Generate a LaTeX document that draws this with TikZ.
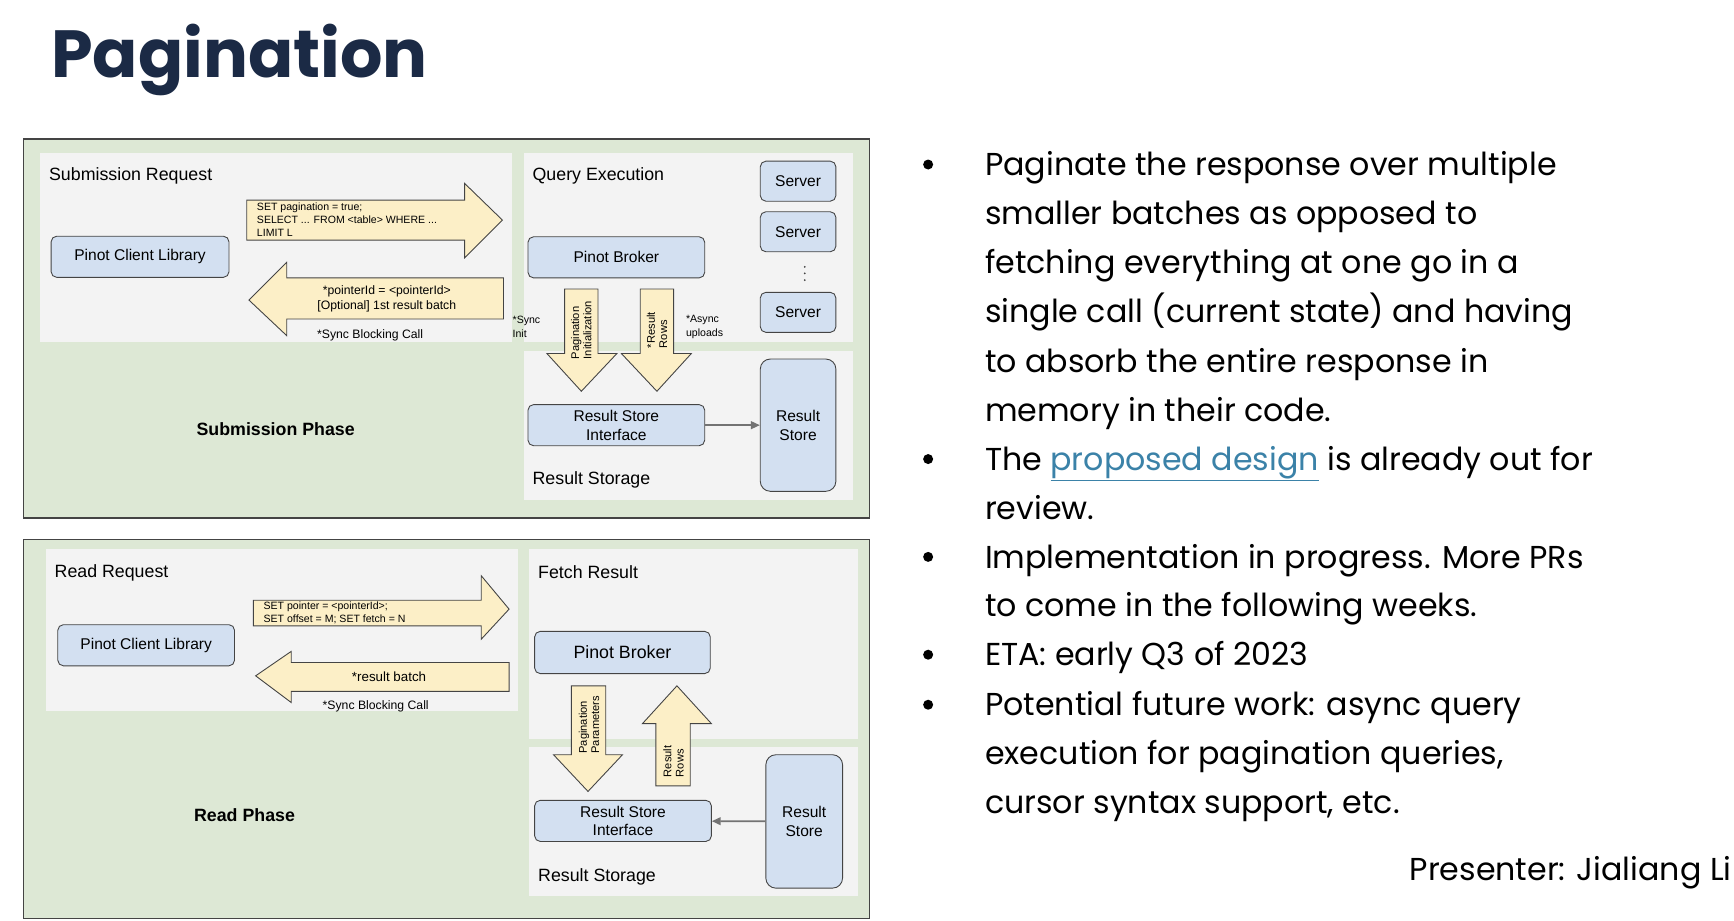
\documentclass[tikz,border=0pt]{standalone}
\usepackage{fontspec}
\setmainfont{Liberation Sans}
\newfontfamily\slide{Poppins}
\usetikzlibrary{arrows.meta}
\definecolor{navy}{HTML}{1B2A45}
\definecolor{phase}{HTML}{DDE8D5}
\definecolor{panel}{HTML}{F3F3F3}
\definecolor{boxb}{HTML}{D3E0F1}
\definecolor{cream}{HTML}{FCEFC7}
\definecolor{edge}{HTML}{444444}
\definecolor{link}{HTML}{3B82A8}
\begin{document}
\begin{tikzpicture}[x=1pt,y=-1pt,
 phasebox/.style={draw=edge,line width=1pt,fill=phase},
 panelbox/.style={fill=panel},
 comp/.style={draw=edge,fill=boxb,rounded corners=5pt,line width=0.8pt,align=center,inner sep=1pt,font=\fontsize{14}{17}\selectfont},
 barrow/.style={draw=edge,fill=cream,line width=0.8pt},
 lbl/.style={inner sep=0,anchor=west,font=\fontsize{16}{19}\selectfont},
 small/.style={inner sep=0,align=left,font=\fontsize{9.5}{12}\selectfont},
 vtxt/.style={inner sep=0,rotate=90,align=left,font=\fontsize{10}{11}\selectfont},
 bul/.style={inner sep=0,anchor=base west,font=\slide\fontsize{28.5}{33}\selectfont,text=black},
 flow/.style={-{Triangle[length=8pt,width=7pt]},draw=gray!90!black,line width=1.5pt}]
\useasboundingbox (0,0) rectangle (1560,828);
\node[inner sep=0,anchor=base west,text=navy,font=\slide\bfseries\fontsize{60}{66}\selectfont] (title) at (46,70) {Pagination};

% ---------------- top phase
\draw[phasebox] (21,125) rectangle (782,466);
\fill[panelbox] (36,138) rectangle (461,308);
\fill[panelbox] (471,138) rectangle (767,308);
\fill[panelbox] (471,316) rectangle (767,450);
\node[lbl] (sr) at (44,158) {Submission Request};
\node[lbl] (qe) at (479,158) {Query Execution};
\node[lbl] (rs1) at (479,432) {Result Storage};
\node[font=\bfseries\fontsize{16}{19}\selectfont] (sp) at (248,386) {Submission Phase};
\node[comp,minimum width=160pt,minimum height=37pt] (pcl1) at (126,231) {Pinot Client Library};
\node[comp,minimum width=159pt,minimum height=37pt] (pb1) at (554.5,231.5) {Pinot Broker};
\node[comp,minimum width=68pt,minimum height=36pt] (s1) at (718,163) {Server};
\node[comp,minimum width=68pt,minimum height=36pt] (s2) at (718,208.5) {Server};
\node[comp,minimum width=68pt,minimum height=36pt] (s3) at (718,281) {Server};
\foreach \d in {240,246,252} \fill[edge] (724,\d) circle (0.9pt);
\node[comp,minimum width=159pt,minimum height=37pt] (rsi1) at (554.5,382.5) {Result Store\\Interface};
\node[comp,minimum width=68pt,minimum height=119pt,rounded corners=9pt] (rst1) at (718,382.5) {Result\\Store};
\draw[flow] (rsi1) -- (rst1);
% block arrows
\draw[barrow] (222,180) -- (418,180) -- (418,165) -- (452,198) -- (418,232) -- (418,216) -- (222,216) -- cycle;
\node[small,anchor=north west] (q1) at (231,182) {SET pagination = true;\\SELECT ... FROM <table> WHERE ...\\LIMIT L};
\draw[barrow] (453,250) -- (258,250) -- (258,236) -- (224,270) -- (258,302) -- (258,287) -- (453,287) -- cycle;
\node[small,align=center,font=\fontsize{11}{14}\selectfont] (q2) at (348,269) {*pointerId = <pointerId>\\{[Optional]} 1st result batch};
\node[small,font=\fontsize{11}{13}\selectfont] (sb1) at (333,302) {*Sync Blocking Call};
\draw[barrow] (508,260) -- (538,260) -- (538,318) -- (555,318) -- (523,352) -- (492,318) -- (508,318) -- cycle;
\node[vtxt] (pi) at (523,297) {Pagination\\Initialization};
\draw[barrow] (576,260) -- (606,260) -- (606,318) -- (622,318) -- (591,352) -- (559,318) -- (576,318) -- cycle;
\node[vtxt] (rr1) at (591,297) {*Result\\Rows};
\node[small,anchor=west] (si) at (461,294) {*Sync\\Init};
\node[small,anchor=west] (au) at (617,294) {*Async\\uploads};

% ---------------- bottom phase
\draw[phasebox] (21,485) rectangle (782,826);
\fill[panelbox] (41,494) rectangle (466,640);
\fill[panelbox] (476,494) rectangle (772,665);
\fill[panelbox] (476,672) rectangle (772,806);
\node[lbl] (rr) at (49,515) {Read Request};
\node[lbl] (fr) at (484,515) {Fetch Result};
\node[lbl] (rs2) at (484,789) {Result Storage};
\node[font=\bfseries\fontsize{16}{19}\selectfont] (rp) at (220,733) {Read Phase};
\node[comp,minimum width=159pt,minimum height=37pt] (pcl2) at (131.5,580.5) {Pinot Client Library};
\node[comp,minimum width=158pt,minimum height=38pt,font=\fontsize{16}{19}\selectfont] (pb2) at (560,587) {Pinot Broker};
\node[comp,minimum width=159pt,minimum height=37pt] (rsi2) at (560.5,738.5) {Result Store\\Interface};
\node[comp,minimum width=69pt,minimum height=120pt,rounded corners=9pt] (rst2) at (723.5,739) {Result\\Store};
\draw[flow] (rst2) -- (rsi2);
\draw[barrow] (228,540) -- (433,540) -- (433,518) -- (458,548) -- (433,575) -- (433,563) -- (228,563) -- cycle;
\node[small,anchor=north west] (q3) at (237,541) {SET pointer = <pointerId>;\\SET offset = M; SET fetch = N};
\draw[barrow] (458,596) -- (262,596) -- (262,586) -- (230,608) -- (262,632) -- (262,622) -- (458,622) -- cycle;
\node[small,font=\fontsize{12}{14}\selectfont] (q4) at (350,609) {*result batch};
\node[small,font=\fontsize{11}{13}\selectfont] (sb2) at (338,635) {*Sync Blocking Call};
\draw[barrow] (514,617) -- (545,617) -- (545,679) -- (560,679) -- (529,712) -- (498,679) -- (514,679) -- cycle;
\node[vtxt] (pp) at (530,652) {Pagination\\Parameters};
\draw[barrow] (590,707) -- (621,707) -- (621,651) -- (640,651) -- (609,617) -- (578,651) -- (590,651) -- cycle;
\node[vtxt] (rr2) at (606,685) {Result\\Rows};

% ---------------- bullets
\foreach \y in {148,413,501,589,634} \fill (835,\y) circle (4.5pt);
\node[bul] (b1) at (886,158) {Paginate the response over multiple};
\node[bul] at (886,202) {smaller batches as opposed to};
\node[bul] at (886,246) {fetching everything at one go in a};
\node[bul] at (886,290) {single call (current state) and having};
\node[bul] at (886,335) {to absorb the entire response in};
\node[bul] at (886,379) {memory in their code.};
\node[bul] (b2) at (886,423) {The \textcolor{link}{\underline{proposed design}} is already out for};
\node[bul] at (886,467) {review.};
\node[bul] (b3) at (886,511) {Implementation in progress. More PRs};
\node[bul] at (886,555) {to come in the following weeks.};
\node[bul] (b4) at (886,599) {ETA: early Q3 of 2023};
\node[bul] (b5) at (886,644) {Potential future work: async query};
\node[bul] at (886,688) {execution for pagination queries,};
\node[bul] at (886,732) {cursor syntax support, etc.};
\node[inner sep=0,anchor=base east,font=\slide\fontsize{28.5}{33}\selectfont] (pres) at (1558,792) {Presenter: Jialiang Li};
\end{tikzpicture}
\end{document}
